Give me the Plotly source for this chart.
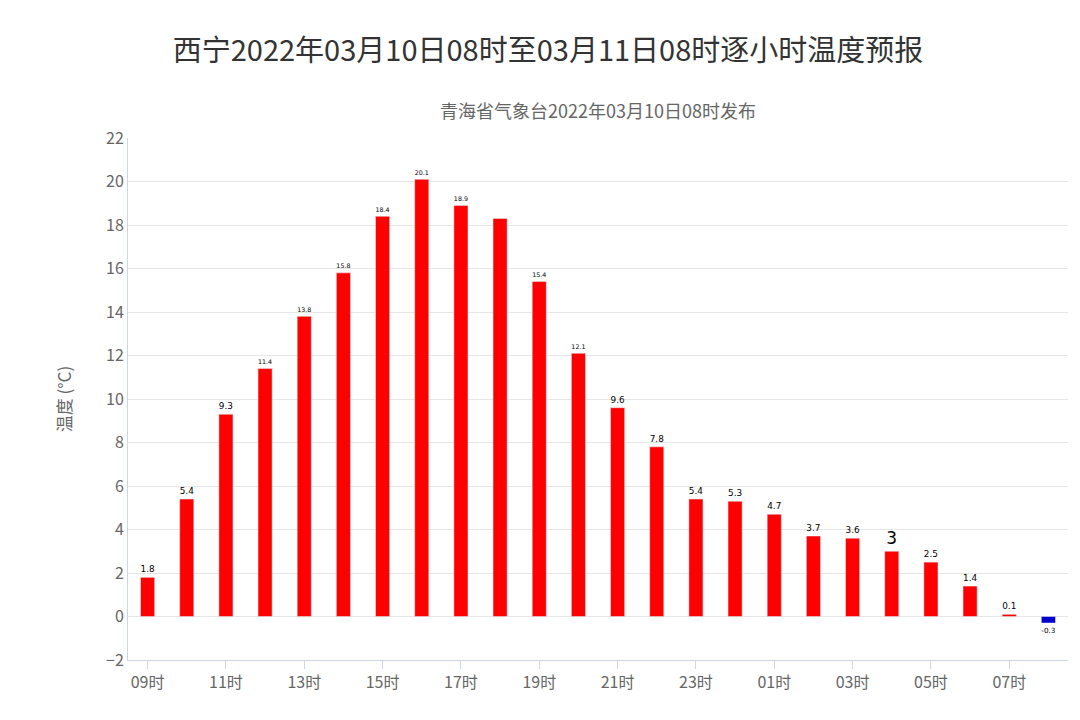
import plotly.graph_objects as go

hours = ["09时","10时","11时","12时","13时","14时","15时","16时","17时","18时","19时","20时","21时","22时","23时","00时","01时","02时","03时","04时","05时","06时","07时","08时"]
temps = [1.8,5.4,9.3,11.4,13.8,15.8,18.4,20.1,18.9,18.3,15.4,12.1,9.6,7.8,5.4,5.3,4.7,3.7,3.6,3,2.5,1.4,0.1,-0.3]
labels = ["1.8","5.4","9.3","11.4","13.8","15.8","18.4","20.1","18.9","","15.4","12.1","9.6","7.8","5.4","5.3","4.7","3.7","3.6","3","2.5","1.4","0.1","-0.3"]
tick_hours = hours[::2]

colors = ["#ff0000" if v >= 0 else "#0000cc" for v in temps]

fig = go.Figure(go.Bar(
    x=hours, y=temps, text=labels, textposition="outside",
    textfont=dict(size=17, color="black", family="DejaVu Sans"),
    marker_color=colors, width=0.36, cliponaxis=False,
))
fig.update_layout(
    width=1080, height=720, plot_bgcolor="white", paper_bgcolor="white",
    margin=dict(l=120, r=20, t=130, b=68),
    title=dict(text="西宁2022年03月10日08时至03月11日08时逐小时温度预报", x=0.5, y=0.955, xanchor="center",
               font=dict(size=29, color="#333333", family="Noto Sans CJK SC")),
    annotations=[dict(text="青海省气象台2022年03月10日08时发布", x=0.5, y=1.082, xref="paper", yref="paper",
                      showarrow=False, font=dict(size=18, color="#666666", family="Noto Sans CJK SC"))],
    showlegend=False,
    font=dict(family="Noto Sans CJK SC"),
)
fig.update_xaxes(tickmode="array", tickvals=tick_hours, ticktext=tick_hours,
                 tickfont=dict(size=16, color="#666666"), showline=True, linecolor="#ccd6eb",
                 ticks="outside", tickcolor="#ccd6eb", ticklen=8)
fig.update_yaxes(range=[-2, 22], dtick=2, gridcolor="#e6e6e6", zeroline=False,
                 tickfont=dict(size=16, color="#666666"), showline=True, linecolor="#ccd6eb",
                 title=dict(text="温度 (°C)", font=dict(size=17, color="#666666"), standoff=30))
fig.write_html("out.html")
